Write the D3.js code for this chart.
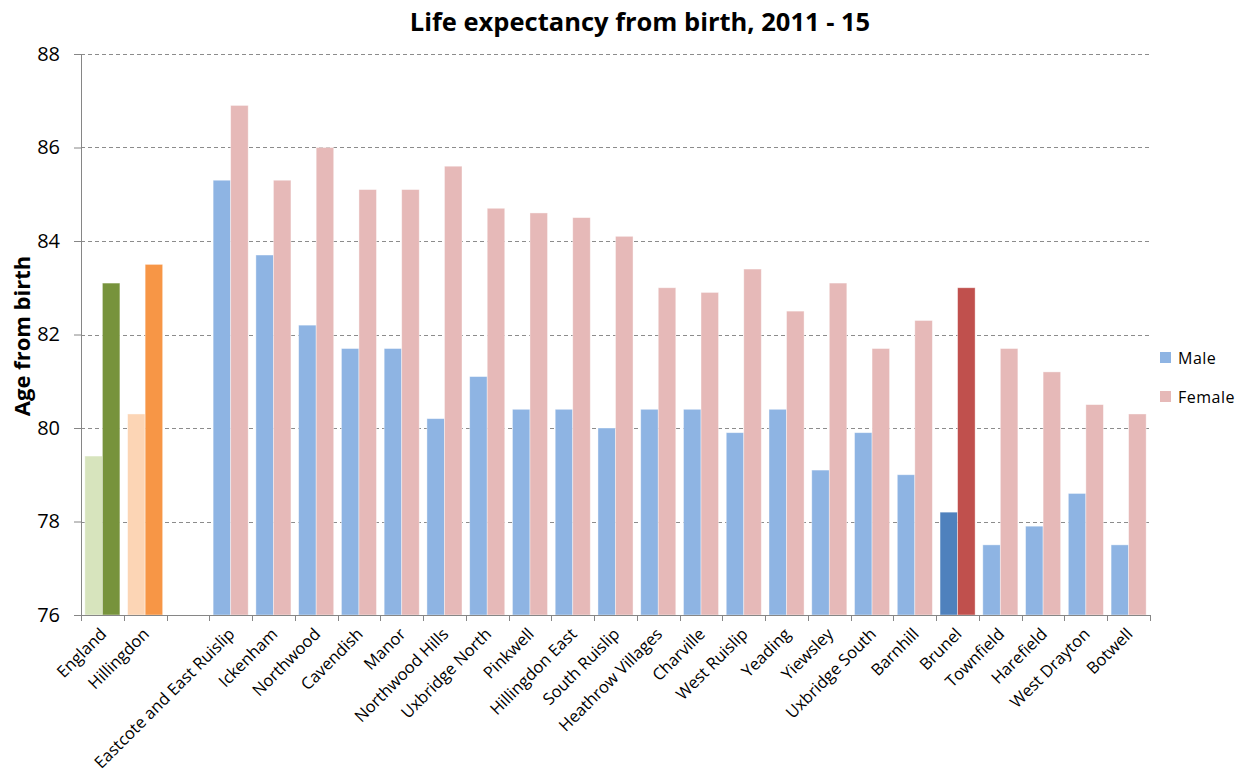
<!DOCTYPE html>
<html>

<head>
    <meta charset='utf-8'>
    <title>Life expectancy from birth</title>
    <script src='https://d3js.org/d3.v7.min.js'></script>
    <style>
        body { margin: 0; background: #fff; }
        text { font-family: 'Open Sans', 'Noto Sans', sans-serif; }
    </style>
</head>

<body>
    <script>
        // areas in the order they are plotted, '' is the empty gap after Hillingdon
        const areas = ['England', 'Hillingdon', '', 'Eastcote and East Ruislip', 'Ickenham', 'Northwood',
            'Cavendish', 'Manor', 'Northwood Hills', 'Uxbridge North', 'Pinkwell', 'Hillingdon East',
            'South Ruislip', 'Heathrow Villages', 'Charville', 'West Ruislip', 'Yeading', 'Yiewsley',
            'Uxbridge South', 'Barnhill', 'Brunel', 'Townfield', 'Harefield', 'West Drayton', 'Botwell'];

        const male = [79.4, 80.3, null, 85.3, 83.7, 82.2, 81.7, 81.7, 80.2, 81.1, 80.4, 80.4,
            80.0, 80.4, 80.4, 79.9, 80.4, 79.1, 79.9, 79.0, 78.2, 77.5, 77.9, 78.6, 77.5];
        const female = [83.1, 83.5, null, 86.9, 85.3, 86.0, 85.1, 85.1, 85.6, 84.7, 84.6, 84.5,
            84.1, 83.0, 82.9, 83.4, 82.5, 83.1, 81.7, 82.3, 83.0, 81.7, 81.2, 80.5, 80.3];

        const yTicks = [76, 78, 80, 82, 84, 86, 88];

        // highlighted areas get their own colours
        const maleColours = { 'England': '#d7e4bd', 'Hillingdon': '#fcd5b5', 'Brunel': '#4f81bd' };
        const femaleColours = { 'England': '#77933c', 'Hillingdon': '#f79646', 'Brunel': '#c0504d' };

        const width = 1245, height = 778;
        const margin = { top: 54, right: 95, bottom: 163, left: 81 };

        const svg = d3.select('body')
            .append('svg')
            .attr('width', width)
            .attr('height', height);

        const x = d3.scaleBand()
            .domain(d3.range(areas.length))
            .range([margin.left, width - margin.right])
            .paddingInner(0.18)
            .paddingOuter(0.09);

        const y = d3.scaleLinear()
            .domain([76, 88])
            .range([height - margin.bottom, margin.top]);

        // dashed gridlines
        svg.append('g')
            .selectAll('line')
            .data(yTicks.filter(d => d > 76))
            .enter()
            .append('line')
            .attr('x1', margin.left)
            .attr('x2', width - margin.right)
            .attr('y1', d => Math.round(y(d)) + 0.5)
            .attr('y2', d => Math.round(y(d)) + 0.5)
            .attr('stroke', '#8c8c8c')
            .attr('stroke-dasharray', '4,3');

        const half = x.bandwidth() / 2;
        const rows = areas.map((a, i) => ({ area: a, i: i, male: male[i], female: female[i] }))
            .filter(d => d.male != null);

        svg.append('g')
            .selectAll('rect')
            .data(rows)
            .enter()
            .append('rect')
            .attr('x', d => x(d.i))
            .attr('y', d => y(d.male))
            .attr('width', half)
            .attr('height', d => y(76) - y(d.male))
            .attr('fill', d => maleColours[d.area] || '#8eb4e3')
            .attr('stroke', '#ffffff')
            .attr('stroke-opacity', 0.5)
            .attr('stroke-width', 0.8);

        svg.append('g')
            .selectAll('rect')
            .data(rows)
            .enter()
            .append('rect')
            .attr('x', d => x(d.i) + half)
            .attr('y', d => y(d.female))
            .attr('width', half)
            .attr('height', d => y(76) - y(d.female))
            .attr('fill', d => femaleColours[d.area] || '#e6b9b8')
            .attr('stroke', '#ffffff')
            .attr('stroke-opacity', 0.5)
            .attr('stroke-width', 0.8);

        // y axis
        const yAxis = svg.append('g')
            .attr('transform', 'translate(' + margin.left + ',0)')
            .call(d3.axisLeft(y).tickValues(yTicks).tickSize(7).tickFormat(d3.format('d')));
        yAxis.select('.domain').attr('stroke', '#868686');
        yAxis.selectAll('.tick line').attr('stroke', '#868686');
        yAxis.selectAll('.tick text')
            .attr('font-size', '20px')
            .attr('fill', '#000')
            .attr('x', -21);

        // x axis: ticks sit between the categories
        const step = x.step();
        const x0 = margin.left;
        svg.append('line')
            .attr('x1', x0).attr('x2', width - margin.right)
            .attr('y1', y(76) + 0.5).attr('y2', y(76) + 0.5)
            .attr('stroke', '#868686');
        svg.append('g')
            .selectAll('line')
            .data(d3.range(areas.length + 1))
            .enter()
            .append('line')
            .attr('x1', i => Math.round(x0 + i * step) + 0.5)
            .attr('x2', i => Math.round(x0 + i * step) + 0.5)
            .attr('y1', y(76))
            .attr('y2', y(76) + 6)
            .attr('stroke', '#868686');

        svg.append('g')
            .selectAll('text')
            .data(areas.map((a, i) => ({ area: a, i: i })).filter(d => d.area !== ''))
            .enter()
            .append('text')
            .attr('transform', d => 'translate(' + (x(d.i) + x.bandwidth() / 2 + 1) + ',' + (y(76) + 16) + ') rotate(-45)')
            .attr('text-anchor', 'end')
            .attr('dy', '0.35em')
            .attr('font-size', '16.5px')
            .attr('fill', '#000')
            .text(d => d.area);

        // title
        svg.append('text')
            .attr('x', 640)
            .attr('y', 31)
            .attr('text-anchor', 'middle')
            .attr('font-size', '25.5px')
            .attr('font-weight', 'bold')
            .text('Life expectancy from birth, 2011 - 15');

        // y axis title
        svg.append('text')
            .attr('transform', 'translate(30,336) rotate(-90)')
            .attr('text-anchor', 'middle')
            .attr('font-size', '22px')
            .attr('font-weight', 'bold')
            .text('Age from birth');

        // legend
        const legend = svg.append('g')
            .selectAll('g')
            .data([['Male', '#8eb4e3'], ['Female', '#e6b9b8']])
            .enter()
            .append('g')
            .attr('transform', (d, i) => 'translate(1160,' + (352 + i * 39) + ')');
        legend.append('rect')
            .attr('width', 11)
            .attr('height', 11)
            .attr('fill', d => d[1]);
        legend.append('text')
            .attr('x', 18)
            .attr('y', 6)
            .attr('dy', '0.35em')
            .attr('font-size', '16px')
            .attr('letter-spacing', '0.5px')
            .text(d => d[0]);
    </script>
</body>

</html>
